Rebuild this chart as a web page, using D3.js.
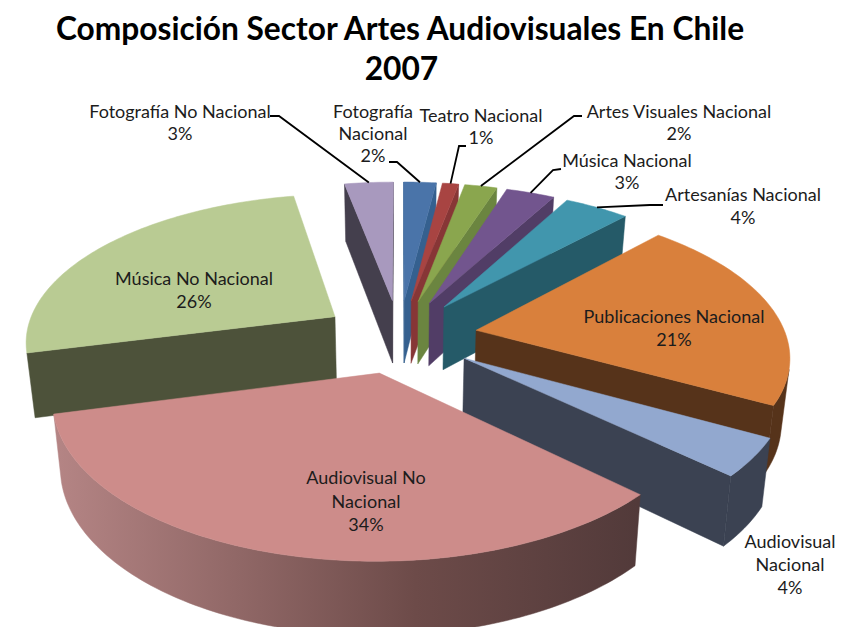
<!DOCTYPE html>
<html lang="es">
<head>
<meta charset="utf-8">
<script src="https://cdn.jsdelivr.net/npm/d3@7/dist/d3.min.js"></script>
<style>
  html, body { margin: 0; padding: 0; background: #fff; }
  svg { display: block; }
  text { font-family: Lato, "Open Sans", sans-serif; }
</style>
</head>
<body>
<div id="chart"></div>
<script>
// Values, clockwise from twelve o'clock
const categories = [
  "Fotografía Nacional", "Teatro Nacional", "Artes Visuales Nacional", "Música Nacional",
  "Artesanías Nacional", "Publicaciones Nacional", "Audiovisual Nacional",
  "Audiovisual No Nacional", "Música No Nacional", "Fotografía No Nacional"
];
const values = [2, 1, 2, 3, 4, 21, 4, 34, 26, 3];

// How each category name wraps inside its label
const nameLines = [
  ["Fotografía", "Nacional"], ["Teatro Nacional"], ["Artes Visuales Nacional"], ["Música Nacional"],
  ["Artesanías Nacional"], ["Publicaciones Nacional"], ["Audiovisual", "Nacional"],
  ["Audiovisual No", "Nacional"], ["Música No Nacional"], ["Fotografía No Nacional"]
];
const titleLines = ["Composición Sector Artes Audiovisuales En Chile", "2007"];

// Face colours
const topColors  = ["#4a74a9", "#a84442", "#8aa64e", "#72558e", "#4196ad", "#d9803c", "#92a8cf", "#cd8c8a", "#b9cb93", "#a899be"];
const wallColors = ["#35608f", "#873636", "#6b8540", "#513d66", "#255a68", "#56331a", "#3b4252", "#523a3a", "#4d523a", "#443f4d"];
const pinkRimStops = ["#b58585", "#6d4b49", "#523a3a"];

// Label anchors (centre x, first baseline, line step)
const labelSpots = [
  [373, 118, 22], [481, 122, 22], [679, 118, 22], [627, 167, 22], [743, 201, 23],
  [674, 323, 23], [790, 548, 23], [366, 484, 23.5], [194, 285, 23], [180, 118, 22]
];
// Leader line start and elbow; null where the label sits on its slice
const leaderElbows = [
  [[389, 162], [397, 162]], [[466, 146], [459, 146]], [[582, 116], [574, 116]],
  [[561, 169], [553, 170]], [[663, 205], [650, 205]], null, null, null, null,
  [[270, 116], [279, 116]]
];

const width = 851, height = 627;
const cx = 399.5, cy = 336;     // pie axis on screen
const radius = 310, explode = 78;
const squash = 0.473, persp = 0.000494;
const thickness = 64, bottomShrink = 0.978;

const svg = d3.select("#chart").append("svg").attr("width", width).attr("height", height);

// Perspective projection of a point on the pie plane; level 0 is the top face, 1 the base
function project(px, py, level) {
  const s = 1 / (1 + persp * py);
  const k = level ? bottomShrink : 1;
  return [
    cx + px * s * k,
    cy - squash * py * s * k + (level ? thickness * s : 0)
  ];
}

const slices = d3.pie().sort(null).startAngle(0).endAngle(2 * Math.PI)(values).map((d, i) => {
  const mid = (d.startAngle + d.endAngle) / 2;
  return {
    i, mid, start: d.startAngle, end: d.endAngle,
    ox: explode * Math.sin(mid), oy: explode * Math.cos(mid)
  };
});

const rimPoint = (sl, a) => [sl.ox + radius * Math.sin(a), sl.oy + radius * Math.cos(a)];
const poly = d3.line();

// Shoelace sign tells whether a wall faces the viewer
const facesViewer = q => {
  let sum = 0;
  q.forEach((p, j) => { const n = q[(j + 1) % q.length]; sum += p[0] * n[1] - n[0] * p[1]; });
  return sum < 0;
};

const defs = svg.append("defs");
const rimGrad = defs.append("linearGradient").attr("id", "pinkRim")
  .attr("gradientUnits", "userSpaceOnUse").attr("x1", 54).attr("x2", 637).attr("y1", 0).attr("y2", 0);
pinkRimStops.forEach((c, j) => rimGrad.append("stop").attr("offset", [0, 0.62, 1][j]).attr("stop-color", c));

const wedgeLayer = svg.append("g");

// Back slices first, so nearer ones overlap them
[...slices].sort((a, b) => b.oy - a.oy).forEach(sl => {
  const g = wedgeLayer.append("g");
  const wall = topColors[sl.i] === "#cd8c8a" ? "url(#pinkRim)" : wallColors[sl.i];
  const apex = [sl.ox, sl.oy];
  const steps = Math.max(4, Math.ceil((sl.end - sl.start) / 0.02));
  const rim = d3.range(steps + 1).map(j => rimPoint(sl, sl.start + (sl.end - sl.start) * j / steps));

  const quad = (p, q) => [project(...p, 0), project(...q, 0), project(...q, 1), project(...p, 1)];
  const paint = (pts, fill) => g.append("path")
    .attr("d", poly(pts) + "Z").attr("fill", fill).attr("stroke", fill).attr("stroke-width", 0.5);

  // Radial cut faces
  const first = quad(apex, rim[0]);
  if (facesViewer(first)) paint(first, wallColors[sl.i]);
  const last = quad(rim[steps], apex);
  if (facesViewer(last)) paint(last, wallColors[sl.i]);

  // Curved outer wall: joined runs of segments that face the viewer
  let run = [];
  const flush = () => {
    if (run.length > 1) {
      paint(run.map(p => project(...p, 0)).concat(run.slice().reverse().map(p => project(...p, 1))), wall);
    }
    run = [];
  };
  for (let j = 0; j < steps; j++) {
    if (facesViewer(quad(rim[j], rim[j + 1]))) {
      if (!run.length) run.push(rim[j]);
      run.push(rim[j + 1]);
    } else flush();
  }
  flush();

  // Top face
  paint([apex, ...rim].map(p => project(...p, 0)), topColors[sl.i]);
});

// Leader lines run from the label to the middle of the slice's outer edge
const leaderLayer = svg.append("g");
slices.forEach(sl => {
  const elbow = leaderElbows[sl.i];
  if (!elbow) return;
  const end = project(...rimPoint(sl, sl.mid), 0);
  leaderLayer.append("path")
    .attr("d", poly([...elbow, end]))
    .attr("fill", "none").attr("stroke", "#000").attr("stroke-width", 1.8);
});

// Percentage labels
const labelLayer = svg.append("g").attr("text-anchor", "middle")
  .attr("font-size", 18).attr("fill", "#1c1c1c");
slices.forEach(sl => {
  const [x, y, step] = labelSpots[sl.i];
  const lines = [...nameLines[sl.i], values[sl.i] + "%"];
  lines.forEach((t, j) => labelLayer.append("text").attr("x", x).attr("y", y + j * step).text(t));
});

// Title
svg.append("g").attr("text-anchor", "middle").attr("font-weight", 700)
  .attr("font-size", 31.7).attr("fill", "#000")
  .selectAll("text").data(titleLines).join("text")
  .attr("x", (d, i) => i ? 401.5 : 400).attr("y", (d, i) => 40 + i * 40).text(d => d);
</script>
</body>
</html>
